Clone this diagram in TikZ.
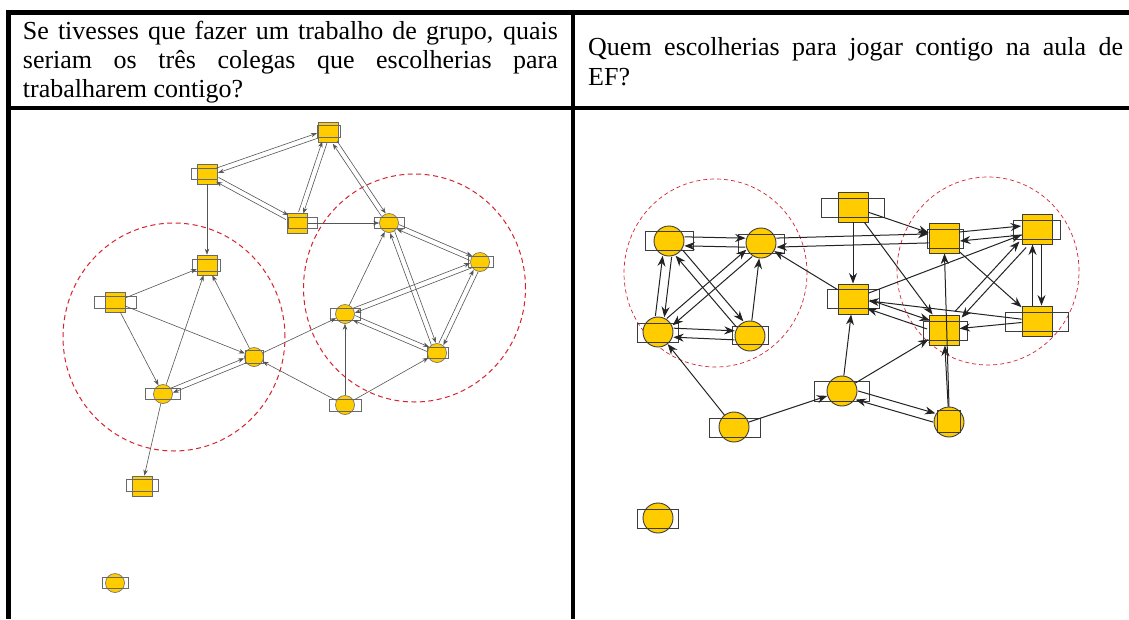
\documentclass[tikz,border=0pt]{standalone}
\usepackage{fontspec}
\setmainfont{Liberation Serif}
\usetikzlibrary{arrows.meta,calc}
\definecolor{ny}{RGB}{255,204,0}
\definecolor{lborder}{RGB}{105,105,105}
\definecolor{rborder}{RGB}{60,60,60}
\definecolor{ledgec}{RGB}{85,85,85}
\definecolor{redgec}{RGB}{35,35,35}
\definecolor{rdash}{RGB}{215,35,45}
\tikzset{
  lsq/.style={rectangle, fill=ny, draw=lborder, line width=0.6pt, minimum size=20pt, inner sep=0pt},
  lcirc/.style={circle, fill=ny, draw=lborder, line width=0.6pt, minimum size=19pt, inner sep=0pt},
  rsq/.style={rectangle, fill=ny, draw=rborder, line width=0.9pt, minimum size=30pt, inner sep=0pt},
  rcirc/.style={circle, fill=ny, draw=rborder, line width=0.9pt, minimum size=30pt, inner sep=0pt},
  llbl/.style={draw=lborder, line width=0.6pt},
  rlbl/.style={draw=rborder, line width=0.9pt},
  ledge/.style={draw=ledgec, line width=0.6pt, -{Stealth[length=6pt,width=4.5pt]}},
  redge/.style={draw=redgec, line width=1pt, -{Stealth[length=10.5pt,width=8pt]}},
  lgroup/.style={draw=rdash, line width=1pt, dash pattern=on 5pt off 3.5pt},
  rgroup/.style={draw=rdash, line width=0.7pt, dash pattern=on 4pt off 3pt},
  hdr/.style={font=\fontsize{26}{29}\selectfont, inner sep=0pt, anchor=base west},
  tline/.style={draw=black, line width=4.5pt}
}
\newcommand\bidir[4]{%
  \path let \p1=($(#3)-(#2)$), \n1={atan2(\y1,\x1)+90}, \n2={atan2(\y1,\x1)-90} in \pgfextra{\xdef\bperpa{\n1}\xdef\bperpb{\n2}};
  \draw[#1, transform canvas={shift={(\bperpa:#4)}}] (#2) -- (#3);
  \draw[#1, transform canvas={shift={(\bperpb:#4)}}] (#3) -- (#2);
}
\begin{document}
\begin{tikzpicture}[x=1pt,y=-1pt]
\useasboundingbox (0,0) rectangle (1129,619);
\fill[white] (0,0) rectangle (1129,619);

% table rules
\draw[tline] (6,12.5) -- (1129,12.5);
\draw[tline] (6,108) -- (1129,108);
\draw[tline] (8.5,10.5) -- (8.5,619);
\draw[tline] (573,10.5) -- (573,619);

% header texts
\node[hdr] (h1) at (22.7,39) {\makebox[535pt][s]{Se tivesses que fazer um trabalho de grupo, quais}};
\node[hdr] (h2) at (22.7,68) {\makebox[535pt][s]{seriam os três colegas que escolherias para}};
\node[hdr] (h3) at (22.7,97) {trabalharem contigo?};
\node[hdr] (h4) at (588,55) {\makebox[535pt][s]{Quem escolherias para jogar contigo na aula de}};
\node[hdr] (h5) at (588,85) {EF?};

% ---------------- left graph ----------------
\draw[lgroup] (174,337) ellipse [x radius=111pt, y radius=114pt];
\draw[lgroup] (414.5,288) ellipse [x radius=111pt, y radius=114pt];

\node[lsq] (L1) at (328,132) {};
\node[lsq] (L2) at (207,174) {};
\node[lsq] (L3) at (297.5,223) {};
\node[lcirc] (L4) at (389,223) {};
\node[lcirc] (L5) at (480,262) {};
\node[lsq] (L6) at (207,265) {};
\node[lsq] (L7) at (115,302) {};
\node[lcirc] (L8) at (345,314) {};
\node[lcirc] (L9) at (254,357) {};
\node[lcirc] (L10) at (437,353) {};
\node[lcirc] (L11) at (163,394) {};
\node[lcirc] (L12) at (345,405) {};
\node[lsq] (L13) at (142,486) {};
\node[lcirc] (L14) at (115,583) {};

\draw[llbl] (317,125) rectangle (340,137);
\draw[llbl] (191,168) rectangle (217,179);
\draw[llbl] (288,217) rectangle (317,228);
\draw[llbl] (374,217) rectangle (404,228);
\draw[llbl] (468,256) rectangle (493,267);
\draw[llbl] (192,259) rectangle (220,271);
\draw[llbl] (94,296) rectangle (136,308);
\draw[llbl] (330,308) rectangle (360,320);
\draw[llbl] (245,350) rectangle (263,363);
\draw[llbl] (427,347) rectangle (448,358);
\draw[llbl] (145,388) rectangle (180,399);
\draw[llbl] (329,399) rectangle (361,411);
\draw[llbl] (126,479) rectangle (158,491);
\draw[llbl] (102,577) rectangle (128,588);

\bidir{ledge}{L1}{L2}{2.5pt}
\bidir{ledge}{L2}{L3}{2.5pt}
\bidir{ledge}{L1}{L3}{2.5pt}
\bidir{ledge}{L1}{L4}{2.5pt}
\bidir{ledge}{L4}{L5}{2.5pt}
\bidir{ledge}{L4}{L10}{2.5pt}
\bidir{ledge}{L5}{L10}{2.5pt}
\bidir{ledge}{L5}{L8}{2.5pt}
\bidir{ledge}{L8}{L10}{2.5pt}
\bidir{ledge}{L9}{L11}{2.5pt}
\draw[ledge] (L2) -- (L6);
\draw[ledge] (L3) -- (L4);
\draw[ledge] (L8) -- (L4);
\draw[ledge] (L12) -- (L8);
\draw[ledge] (L12) -- (L10);
\draw[ledge] (L9) -- (L8);
\draw[ledge] (L12) -- (L9);
\draw[ledge] (L7) -- (L6);
\draw[ledge] (L7) -- (L9);
\draw[ledge] (L7) -- (L11);
\draw[ledge] (L11) -- (L6);
\draw[ledge] (L9) -- (L6);
\draw[ledge] (L11) -- (L13);

% ---------------- right graph ----------------
\draw[rgroup] (715.5,273) ellipse [x radius=91.5pt, y radius=94pt];
\draw[rgroup] (988,271) ellipse [x radius=91pt, y radius=94pt];

\node[rcirc] (R1) at (669,241) {};
\node[rcirc] (R2) at (761,243) {};
\node[rcirc] (R3) at (658,332) {};
\node[rcirc] (R4) at (750,336) {};
\node[rsq] (R5) at (853,207) {};
\node[rsq] (R6) at (944,238) {};
\node[rsq] (R7) at (1037,229) {};
\node[rsq] (R8) at (853,299) {};
\node[rsq] (R9) at (944,330) {};
\node[rsq] (R10) at (1037,321) {};
\node[rcirc] (R11) at (842,391) {};
\node[rcirc] (R12) at (734,427) {};
\node[rcirc] (R13) at (949,422) {};
\node[rcirc] (R14) at (658,518) {};

\draw[rlbl] (645,231) rectangle (693,250);
\draw[rlbl] (738,234) rectangle (784,253);
\draw[rlbl] (637,323) rectangle (678,342);
\draw[rlbl] (732,326) rectangle (768,344);
\draw[rlbl] (821,198) rectangle (884,217);
\draw[rlbl] (927,229) rectangle (963,248);
\draw[rlbl] (1013,220) rectangle (1060,239);
\draw[rlbl] (827,289) rectangle (879,308);
\draw[rlbl] (923,321) rectangle (967,340);
\draw[rlbl] (1005,312) rectangle (1068,331);
\draw[rlbl] (814,381) rectangle (869,401);
\draw[rlbl] (709,418) rectangle (760,437);
\draw[rlbl] (937,410) rectangle (960,432);
\draw[rlbl] (637,509) rectangle (678,528);

\bidir{redge}{R1}{R2}{4.5pt}
\bidir{redge}{R1}{R3}{4.5pt}
\bidir{redge}{R1}{R4}{4.5pt}
\bidir{redge}{R2}{R3}{4.5pt}
\bidir{redge}{R3}{R4}{4.5pt}
\bidir{redge}{R2}{R6}{4.5pt}
\bidir{redge}{R6}{R7}{4.5pt}
\bidir{redge}{R7}{R10}{4.5pt}
\bidir{redge}{R9}{R7}{4.5pt}
\bidir{redge}{R8}{R9}{4.5pt}
\bidir{redge}{R11}{R13}{4.5pt}
\draw[redge] (R4) -- (R2);
\draw[redge] (R12) -- (R3);
\draw[redge] (R8) -- (R2);
\draw[redge] (R5) -- (R6);
\draw[redge] (R5) -- (R8);
\draw[redge] (R5) -- (R9);
\draw[redge] (R6) -- (R10);
\draw[redge] (R8) -- (R7);
\draw[redge] (R10) -- (R8);
\draw[redge] (R10) -- (R9);
\draw[redge] (R11) -- (R8);
\draw[redge] (R11) -- (R9);
\draw[redge] (R12) -- (R11);
\draw[redge] (R13) -- (R9);
\draw[redge] (R13.north) -- (R6);
\end{tikzpicture}
\end{document}
